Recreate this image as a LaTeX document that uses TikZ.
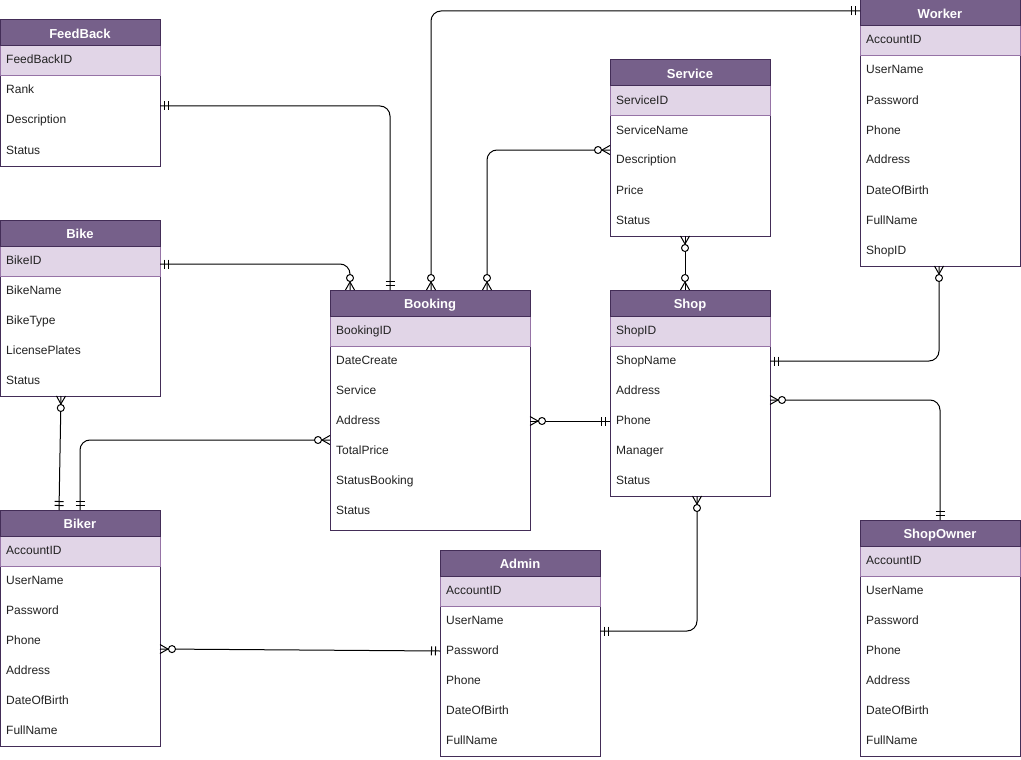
\documentclass[tikz,border=0pt]{standalone}
\usepackage{fontspec}
\setmainfont{Liberation Sans}
\definecolor{hdrfill}{HTML}{76608A}
\definecolor{hdrline}{HTML}{432D57}
\definecolor{pkfill}{HTML}{E1D5E7}
\definecolor{pkline}{HTML}{9673A6}
\definecolor{txt}{HTML}{222222}
\newcommand{\rowfont}{\fontsize{12}{14}\selectfont}
\newcommand{\hdrfont}{\fontsize{13}{15}\selectfont\bfseries}

% ER zero-to-many (circle + crow's foot)
\pgfdeclarearrow{
  name = ERzm,
  setup code = {
    \pgfarrowssettipend{0pt}
    \pgfarrowssetlineend{0pt}
    \pgfarrowssetbackend{-16pt}
  },
  drawing code = {
    \pgfsetdash{}{0pt}
    \pgfsetroundjoin
    \pgfpathmoveto{\pgfqpoint{0pt}{4.5pt}}
    \pgfpathlineto{\pgfqpoint{-8pt}{0pt}}
    \pgfpathlineto{\pgfqpoint{0pt}{-4.5pt}}
    \pgfusepathqstroke
    \pgfpathcircle{\pgfqpoint{-12pt}{0pt}}{3.5pt}
    \pgfsetfillcolor{white}
    \pgfusepathqfillstroke
  }
}
% ER mandatory one (two bars)
\pgfdeclarearrow{
  name = ERmo,
  setup code = {
    \pgfarrowssettipend{0pt}
    \pgfarrowssetlineend{0pt}
    \pgfarrowssetbackend{-9pt}
  },
  drawing code = {
    \pgfsetdash{}{0pt}
    \pgfpathmoveto{\pgfqpoint{-4.5pt}{-4.5pt}}
    \pgfpathlineto{\pgfqpoint{-4.5pt}{4.5pt}}
    \pgfpathmoveto{\pgfqpoint{-8.5pt}{-4.5pt}}
    \pgfpathlineto{\pgfqpoint{-8.5pt}{4.5pt}}
    \pgfusepathqstroke
  }
}

\tikzset{
  tbody/.style={draw=hdrline, fill=white, line width=1pt, inner sep=0pt, outer sep=0pt, anchor=north west},
  thead/.style={draw=hdrline, fill=hdrfill, line width=1pt, minimum height=26pt, inner sep=0pt, outer sep=0pt, anchor=north west},
  tpk/.style={draw=pkline, fill=pkfill, line width=1pt, minimum height=30pt, inner sep=0pt, outer sep=0pt, anchor=north west},
  ttitle/.style={font=\hdrfont, text=white, inner sep=0pt, anchor=base},
  ttext/.style={font=\rowfont, text=txt, inner sep=0pt, anchor=base west},
  rel/.style={draw=black, line width=1pt, rounded corners=10pt},
}

% name, x, y, width, bottom, title, pk, rows
\newcommand{\ertab}[8]{%
  \node[tbody, minimum width={#4*1pt}, minimum height={(#5-#3)*1pt}] (#1) at (#2,#3) {};
  \node[tpk, minimum width={#4*1pt}] (#1K) at (#2,#3+26) {};
  \node[thead, minimum width={#4*1pt}] (#1H) at (#2,#3) {};
  \node[ttitle] (#1T) at ({#2+#4/2},#3+18.3) {#6};
  \node[ttext] (#1P) at (#2+6,#3+44) {#7};
  \foreach \t [count=\i] in {#8} {\node[ttext] (#1R\i) at (#2+6,{#3+44+30*\i}) {\t};}
}

\begin{document}
\begin{tikzpicture}[x=1pt,y=-1pt]
\useasboundingbox (0,0) rectangle (1021,760);

\ertab{fb}{0}{20}{160}{166}{FeedBack}{FeedBackID}{Rank,Description,Status}
\ertab{bi}{0}{220}{160}{396}{Bike}{BikeID}{BikeName,BikeType,LicensePlates,Status}
\ertab{bkr}{0}{510}{160}{746}{Biker}{AccountID}{UserName,Password,Phone,Address,DateOfBirth,FullName}
\ertab{bk}{330}{290}{200}{530}{Booking}{BookingID}{DateCreate,Service,Address,TotalPrice,StatusBooking,Status}
\ertab{sv}{610}{60}{160}{236}{Service}{ServiceID}{ServiceName,Description,Price,Status}
\ertab{sh}{610}{290}{160}{496}{Shop}{ShopID}{ShopName,Address,Phone,Manager,Status}
\ertab{wk}{860}{0}{160}{266}{Worker}{AccountID}{UserName,Password,Phone,Address,DateOfBirth,FullName,ShopID}
\ertab{ad}{440}{550}{160}{756}{Admin}{AccountID}{UserName,Password,Phone,DateOfBirth,FullName}
\ertab{so}{860}{520}{160}{756}{ShopOwner}{AccountID}{UserName,Password,Phone,Address,DateOfBirth,FullName}

% relationships
\draw[rel, ERmo-ERmo] (fb.east |- 0,106) -| (bk.north -| 390,0);
\draw[rel, ERmo-ERzm] (bi.east |- 0,264) -| (bk.north -| 350,0);
\draw[rel, ERzm-ERmo] (bk.north -| 431,0) |- (wk.west |- 0,11);
\draw[rel, ERzm-ERzm] (bk.north -| 487,0) |- (sv.west |- 0,150);
\draw[rel, ERzm-ERzm] (sv.south -| 685,0) -- (sh.north -| 685,0);
\draw[rel, ERzm-ERmo] (wk.south -| 939,0) |- (sh.east |- 0,361);
\draw[rel, ERzm-ERmo] (sh.east |- 0,400) -| (so.north -| 940,0);
\draw[rel, ERzm-ERmo] (bk.east |- 0,421) -- (sh.west |- 0,421);
\draw[rel, ERzm-ERmo] (sh.south -| 697,0) |- (ad.east |- 0,631);
\draw[rel, ERzm-ERmo] (bkr.east |- 0,649) -- (ad.west |- 0,651);
\draw[rel, ERzm-ERmo] (bi.south -| 61,0) -- (bkr.north -| 59,0);
\draw[rel, ERzm-ERmo] (bk.west |- 0,440) -| (bkr.north -| 80,0);
\end{tikzpicture}
\end{document}
